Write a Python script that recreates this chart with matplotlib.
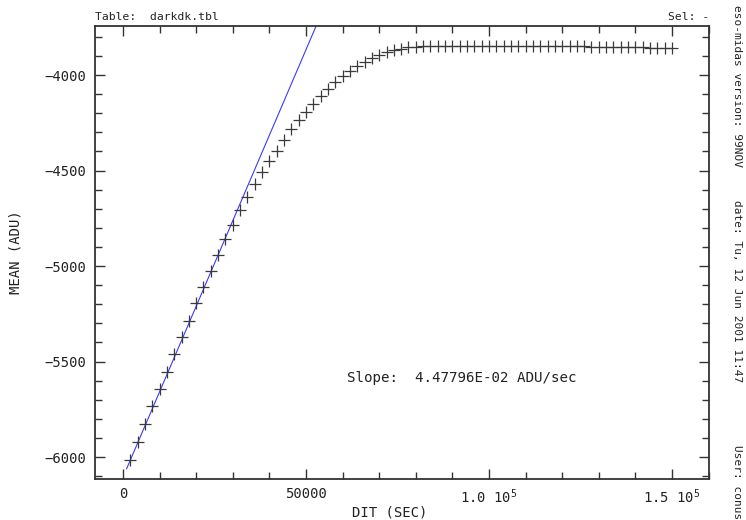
import numpy as np
import matplotlib
matplotlib.use('Agg')
import matplotlib.pyplot as plt
from matplotlib.ticker import MultipleLocator, FixedLocator

plt.rcParams['font.family'] = 'DejaVu Sans Mono'
plt.rcParams['mathtext.fontset'] = 'custom'
plt.rcParams['mathtext.rm'] = 'DejaVu Sans Mono'
plt.rcParams['mathtext.default'] = 'regular'

# DIT (sec) and mean dark level (ADU)
dit = [2000, 4000, 6000, 8000, 10000, 12000, 14000, 16000, 18000, 20000,
       22000, 24000, 26000, 28000, 30000, 32000, 34000, 36000, 38000, 40000,
       42000, 44000, 46000, 48000, 50000, 52000, 54000, 56000, 58000, 60000,
       62000, 64000, 66000, 68000, 70000, 72000, 74000, 76000, 78000, 80000,
       82000, 84000, 86000, 88000, 90000, 92000, 94000, 96000, 98000, 100000,
       102000, 104000, 106000, 108000, 110000, 112000, 114000, 116000, 118000, 120000,
       122000, 124000, 126000, 128000, 130000, 132000, 134000, 136000, 138000, 140000,
       142000, 144000, 146000, 148000, 150000]
mean = [-6016, -5922, -5827, -5733, -5646, -5554, -5461, -5373, -5287, -5195,
        -5110, -5025, -4941, -4860, -4784, -4708, -4637, -4571, -4508, -4450,
        -4396, -4340, -4284, -4236, -4192, -4152, -4110, -4072, -4038, -4005,
        -3977, -3953, -3930, -3911, -3894, -3880, -3869, -3862, -3855, -3852,
        -3850, -3849, -3848, -3848, -3847, -3847, -3847, -3846, -3846, -3846,
        -3846, -3847, -3847, -3847, -3848, -3848, -3848, -3849, -3849, -3849,
        -3850, -3850, -3850, -3851, -3851, -3852, -3852, -3853, -3853, -3854,
        -3855, -3856, -3857, -3858, -3859]

slope = 4.47796e-02
intercept = -6106.
fit_x = [1000, 160000]

fig = plt.figure(figsize=(7.46, 5.2), dpi=100)
ax = fig.add_axes([0.1273, 0.0788, 0.8231, 0.8712])

fx = np.array(fit_x, dtype=float)
ax.plot(fx, intercept + slope * fx, color='#3a3aff', lw=0.8)
ax.plot(dit, mean, ls='none', marker='+', ms=8, mew=0.9, color='#3a3a3a')

ax.set_xlim(-7650, 160100)
ax.set_ylim(-6115, -3743)

ax.xaxis.set_major_locator(FixedLocator([0, 50000, 100000, 150000]))
ax.xaxis.set_minor_locator(MultipleLocator(10000))
ax.set_xticklabels(['0', '50000', r'1.0 10$^{5}$', r'1.5 10$^{5}$'])
ax.yaxis.set_major_locator(MultipleLocator(500))
ax.yaxis.set_minor_locator(MultipleLocator(100))

ax.tick_params(which='both', direction='in', top=True, right=True,
               color='#333333', labelsize=10, labelcolor='#222222', pad=6)
ax.tick_params(which='major', length=7, width=1.0)
ax.tick_params(which='minor', length=5, width=1.0)
for s in ax.spines.values():
    s.set_color('#333333')
    s.set_linewidth(1.3)

ax.set_xlabel('DIT (SEC)', fontsize=10, color='#222222')
ax.xaxis.set_label_coords(0.48, -0.058)
ax.set_ylabel('MEAN (ADU)', fontsize=10, color='#222222')
ax.yaxis.set_label_coords(-0.118, 0.5)

ax.text(0.0, 1.008, 'Table:  darkdk.tbl', transform=ax.transAxes,
        fontsize=8.2, va='bottom', ha='left', color='#222222')
ax.text(1.0, 1.008, 'Sel: -', transform=ax.transAxes,
        fontsize=8.2, va='bottom', ha='right', color='#222222')
ax.text(0.41, 0.223, 'Slope:  4.47796E-02 ADU/sec', transform=ax.transAxes,
        fontsize=10.2, va='center', ha='left', color='#222222')

fig.text(0.988, 0.99, 'eso-midas version: 99NOV', rotation=270,
         fontsize=8, va='top', ha='center', color='#222222')
fig.text(0.988, 0.615, 'date: Tu, 12 Jun 2001 11:47', rotation=270,
         fontsize=8, va='top', ha='center', color='#222222')
fig.text(0.988, 0.145, 'User: conus', rotation=270,
         fontsize=8, va='top', ha='center', color='#222222')

fig.savefig('out.png', dpi=100)
